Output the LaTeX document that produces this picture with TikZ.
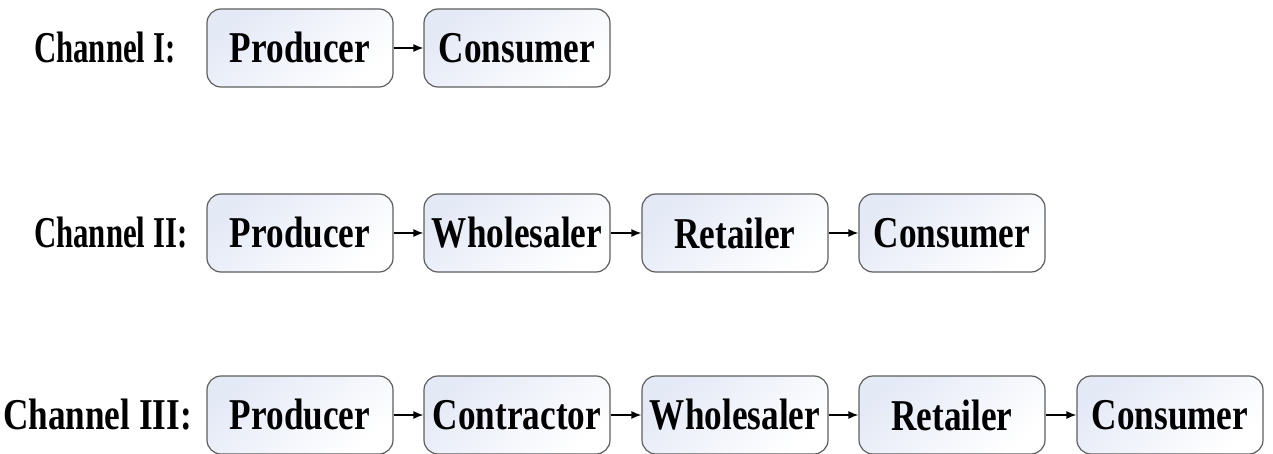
\documentclass[tikz,border=0pt]{standalone}
\usepackage{fontspec}
\setmainfont{Liberation Serif}[FakeStretch=0.80]
\newfontfamily\labfont{Liberation Serif}[FakeStretch=0.70]
\usetikzlibrary{arrows.meta}
\definecolor{boxtop}{HTML}{E4E9F6}
\definecolor{boxline}{HTML}{5E5E5E}
\begin{document}
\begin{tikzpicture}[x=1pt,y=-1pt,
  box/.style={draw=boxline, line width=1.2pt, rounded corners=14pt,
    minimum width=186pt, minimum height=78pt, inner sep=0pt,
    top color=boxtop, bottom color=white, shading angle=40,
    font=\fontsize{44}{50}\selectfont\bfseries},
  chan/.style={anchor=west, inner sep=0pt, font=\fontsize{44}{50}\selectfont\bfseries},
  flow/.style={-{Latex[length=10pt,width=8pt]}, line width=1.4pt, black}]
\useasboundingbox (0,0) rectangle (1273,454);
% Channel I
\node[chan, font=\fontsize{44}{50}\labfont\bfseries] (c1) at (34,48) {Channel I:};
\node[box] (a1) at (300,48) {Producer};
\node[box] (a2) at (517,48) {Consumer};
\draw[flow] (a1) -- (a2);
% Channel II
\node[chan, font=\fontsize{44}{50}\labfont\bfseries] (c2) at (34,233) {Channel II:};
\node[box] (b1) at (300,233) {Producer};
\node[box] (b2) at (517,233) {Wholesaler};
\node[box] (b3) at (735,233) {Retailer};
\node[box] (b4) at (952,233) {Consumer};
\draw[flow] (b1) -- (b2);
\draw[flow] (b2) -- (b3);
\draw[flow] (b3) -- (b4);
% Channel III
\node[chan] (c3) at (3,415) {Channel III:};
\node[box] (d1) at (300,415) {Producer};
\node[box] (d2) at (517,415) {Contractor};
\node[box] (d3) at (735,415) {Wholesaler};
\node[box] (d4) at (952,415) {Retailer};
\node[box] (d5) at (1170,415) {Consumer};
\draw[flow] (d1) -- (d2);
\draw[flow] (d2) -- (d3);
\draw[flow] (d3) -- (d4);
\draw[flow] (d4) -- (d5);
\end{tikzpicture}
\end{document}
